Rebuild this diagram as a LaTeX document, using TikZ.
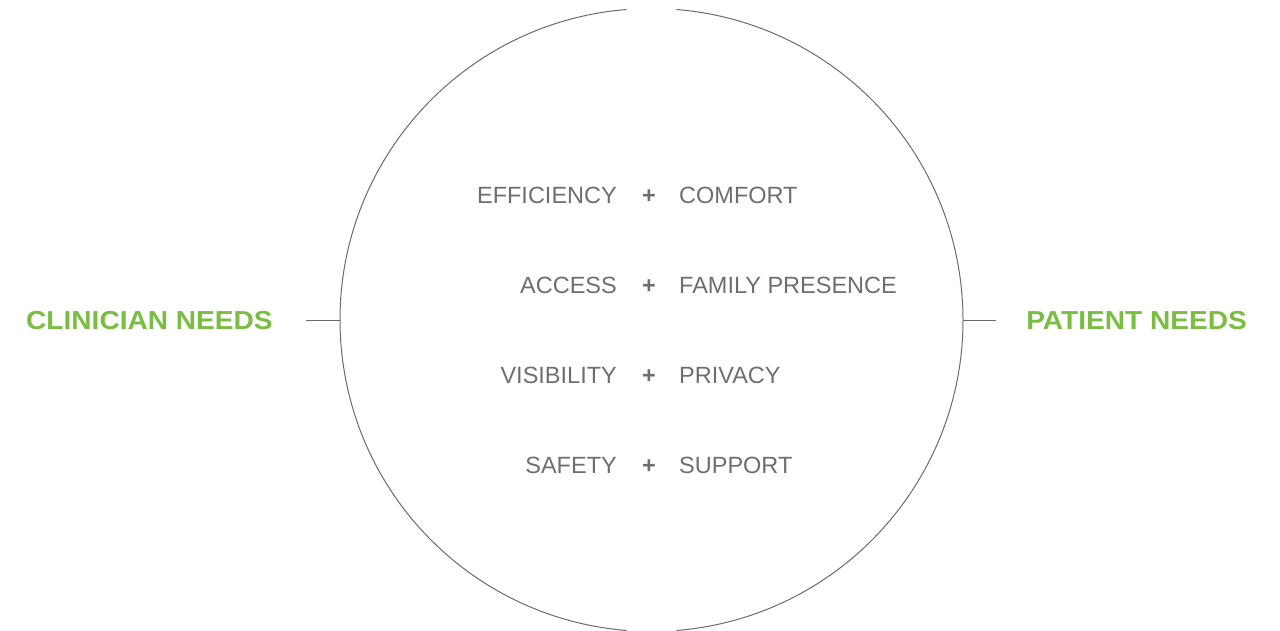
\documentclass[tikz,border=0pt]{standalone}
\usepackage{fontspec}
\setmainfont{Liberation Sans}
\newfontfamily\needfont[FakeStretch=1.08]{Liberation Sans}
\definecolor{txtgray}{HTML}{6D6E70}
\definecolor{needgreen}{HTML}{7BBD42}
\definecolor{linegray}{HTML}{6A6B6D}
\begin{document}
\begin{tikzpicture}[x=1pt,y=1pt,
  ring/.style={draw=linegray,line width=1pt},
  tick/.style={draw=linegray,line width=0.9pt},
  item/.style={text=txtgray,font=\fontsize{23.5}{28}\selectfont,inner sep=0pt},
  plus/.style={text=txtgray,font=\bfseries\fontsize{23.5}{28}\selectfont,inner sep=0pt},
  need/.style={text=needgreen,font=\needfont\bfseries\fontsize{26}{30}\selectfont,inner sep=0pt}]
\useasboundingbox (0,0) rectangle (1280,631);
\coordinate (c) at (651.5,311);
\draw[ring] (c) ++(94.6:311.5) arc[start angle=94.6,end angle=265.4,radius=311.5];
\draw[ring] (c) ++(-85.4:311.5) arc[start angle=-85.4,end angle=85.4,radius=311.5];
\coordinate (cl) at (340,311);
\coordinate (tl) at (306,311);
\coordinate (cr) at (963,311);
\coordinate (tr) at (996,311);
\draw[tick] (tl) -- (cl);
\draw[tick] (cr) -- (tr);
\node[need,anchor=base west] (clin) at (26,301) {CLINICIAN NEEDS};
\node[need,anchor=base east] (pat) at (1247,301) {PATIENT NEEDS};
\foreach \l/\r/\y/\n in {EFFICIENCY/COMFORT/427.5/1, ACCESS/FAMILY PRESENCE/337.5/2, VISIBILITY/PRIVACY/247.5/3, SAFETY/SUPPORT/157.5/4}{
  \node[item,anchor=base east] (l\n) at (617,\y) {\l};
  \node[plus,anchor=base] (p\n) at (649,\y) {+};
  \node[item,anchor=base west] (r\n) at (679,\y) {\r};
}
\end{tikzpicture}
\end{document}
